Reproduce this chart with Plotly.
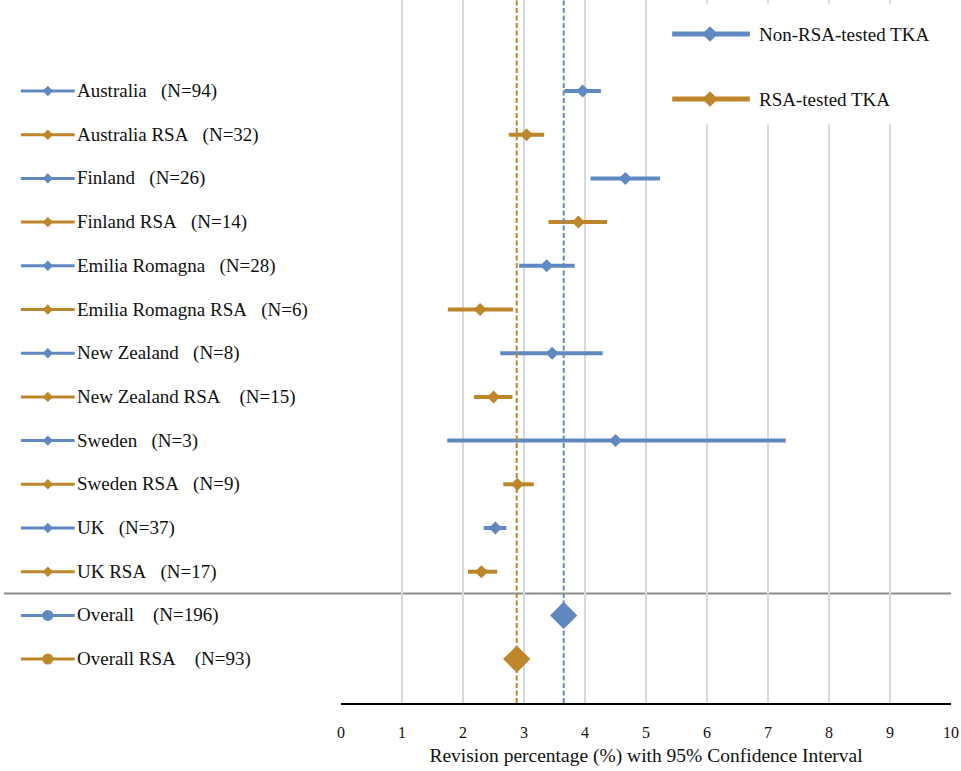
import plotly.graph_objects as go

# ---------------- data ----------------
labels = ["Australia", "Australia RSA", "Finland", "Finland RSA",
          "Emilia Romagna", "Emilia Romagna RSA", "New Zealand", "New Zealand RSA",
          "Sweden", "Sweden RSA", "UK", "UK RSA"]
n_vals = [94, 32, 26, 14, 28, 6, 8, 15, 3, 9, 37, 17]
estimate = [3.96, 3.04, 4.66, 3.89, 3.37, 2.28, 3.46, 2.50, 4.50, 2.89, 2.53, 2.30]
ci_low = [3.66, 2.75, 4.09, 3.40, 2.92, 1.75, 2.61, 2.18, 1.74, 2.66, 2.34, 2.08]
ci_high = [4.26, 3.33, 5.23, 4.36, 3.83, 2.82, 4.29, 2.81, 7.29, 3.16, 2.71, 2.56]
gaps = [3, 3, 3, 3, 3, 3, 3, 4, 3, 3, 3, 3]

overall_labels = ["Overall", "Overall RSA"]
overall_n = [196, 93]
overall_est = [3.65, 2.88]

legend_names = ["Non-RSA-tested TKA", "RSA-tested TKA"]
x_ticks = list(range(0, 11))

BLUE = "#6088c1"
GOLD = "#bd862a"
FONT = "Liberation Serif"
TXT = "#111111"
colors = [BLUE, GOLD]

W, H = 961, 771
L, R, T, B = 0, 10, 0, 68
PW = W - L - R          # 951
PH = H - T - B          # 703
X0 = 338.5              # pixel of value 0
n_rows = len(labels) + len(overall_labels)
row_px = 43.7
first_row_px = 91
y_top = -first_row_px / row_px
y_bot = y_top + PH / row_px

fig = go.Figure()

# ---------------- forest markers ----------------
for g in range(2):
    idx = list(range(g, len(labels), 2))
    fig.add_trace(go.Scatter(
        x=[estimate[i] for i in idx], y=idx, mode="markers",
        marker=dict(symbol="diamond", size=10, color=colors[g]),
        error_x=dict(type="data", symmetric=False,
                     array=[ci_high[i] - estimate[i] for i in idx],
                     arrayminus=[estimate[i] - ci_low[i] for i in idx],
                     color=colors[g], thickness=4, width=0),
        xaxis="x", yaxis="y", showlegend=False, hoverinfo="skip"))

for g in range(2):
    fig.add_trace(go.Scatter(
        x=[overall_est[g]], y=[len(labels) + g], mode="markers",
        marker=dict(symbol="diamond", size=21, color=colors[g]),
        xaxis="x", yaxis="y", showlegend=False, hoverinfo="skip"))

# ---------------- left label keys ----------------
all_labels = labels + overall_labels
all_n = n_vals + overall_n
for g in range(2):
    rows = [i for i in range(n_rows) if i % 2 == g]
    xs, ys = [], []
    for r in rows:
        xs += [17, 71, None]
        ys += [r, r, None]
    fig.add_trace(go.Scatter(x=xs, y=ys, mode="lines",
                             line=dict(color=colors[g], width=3),
                             xaxis="x2", yaxis="y", showlegend=False, hoverinfo="skip"))
    small = [r for r in rows if r < len(labels)]
    big = [r for r in rows if r >= len(labels)]
    fig.add_trace(go.Scatter(x=[44] * len(small), y=small, mode="markers",
                             marker=dict(symbol="diamond", size=8, color=colors[g]),
                             xaxis="x2", yaxis="y", showlegend=False, hoverinfo="skip"))
    fig.add_trace(go.Scatter(x=[44] * len(big), y=big, mode="markers",
                             marker=dict(symbol="circle", size=11, color=colors[g]),
                             xaxis="x2", yaxis="y", showlegend=False, hoverinfo="skip"))

annotations = []
all_gaps = gaps + [4, 4]
for i, (name, n) in enumerate(zip(all_labels, all_n)):
    annotations.append(dict(
        x=71, y=i, xref="x2", yref="y", xanchor="left", yanchor="middle",
        text=name + "\u00a0" * all_gaps[i] + f"(N={n})", showarrow=False,
        font=dict(family=FONT, size=19, color=TXT)))

# ---------------- top-right legend ----------------
leg_y = [34, 99]
for g in range(2):
    fig.add_trace(go.Scatter(x=[671, 749], y=[leg_y[g], leg_y[g]], mode="lines",
                             line=dict(color=colors[g], width=5),
                             xaxis="x2", yaxis="y2", showlegend=False, hoverinfo="skip"))
    fig.add_trace(go.Scatter(x=[709], y=[leg_y[g]], mode="markers",
                             marker=dict(symbol="diamond", size=12, color=colors[g]),
                             xaxis="x2", yaxis="y2", showlegend=False, hoverinfo="skip"))
    annotations.append(dict(
        x=756, y=leg_y[g], xref="x2", yref="y2", xanchor="left", yanchor="middle",
        text=legend_names[g], showarrow=False,
        font=dict(family=FONT, size=19, color=TXT)))

shapes = [
    # legend background
    dict(type="rect", xref="x2", yref="y2", x0=648, x1=961, y0=4, y1=124,
         fillcolor="white", line=dict(width=0), layer="between"),
    # separator
    dict(type="line", xref="paper", yref="y", x0=0, x1=1,
         y0=len(labels) - 0.5, y1=len(labels) - 0.5,
         line=dict(color="#8c8c8c", width=2), layer="between"),
]
for g in range(2):
    shapes.append(dict(type="line", xref="x", yref="paper",
                       x0=overall_est[g], x1=overall_est[g], y0=0, y1=1,
                       line=dict(color=colors[g], width=2, dash="5px,2.5px"),
                       layer="above"))

dom0 = X0 / PW
fig.update_layout(
    width=W, height=H,
    margin=dict(l=L, r=R, t=T, b=B, pad=0),
    paper_bgcolor="white", plot_bgcolor="rgba(0,0,0,0)",
    font=dict(family=FONT, color=TXT),
    xaxis=dict(domain=[dom0, 1], range=[0, 10], tickvals=x_ticks,
               showgrid=True, gridcolor="#d9d9d9", gridwidth=2,
               zeroline=False, showline=True, linecolor="black", linewidth=2,
               ticks="", ticklabelstandoff=14,
               tickfont=dict(family=FONT, size=16, color=TXT),
               title=dict(text="Revision percentage (%) with 95% Confidence Interval",
                          font=dict(family=FONT, size=19.5, color=TXT),
                          standoff=8),
               anchor="y", fixedrange=True),
    yaxis=dict(domain=[0, 1], range=[y_bot, y_top], visible=False,
               showgrid=False, zeroline=False, anchor="x", fixedrange=True),
    xaxis2=dict(domain=[0, 1], range=[0, PW], visible=False, anchor="y2",
                showgrid=False, zeroline=False, fixedrange=True),
    yaxis2=dict(domain=[0, 1], range=[PH, 0], visible=False, anchor="x2",
                showgrid=False, zeroline=False, fixedrange=True),
    shapes=shapes, annotations=annotations,
    showlegend=False,
)

fig.write_html("out.html",
               config={"displayModeBar": False},
               post_script="document.body.style.margin='0';"
                           "document.body.style.overflow='hidden';")
